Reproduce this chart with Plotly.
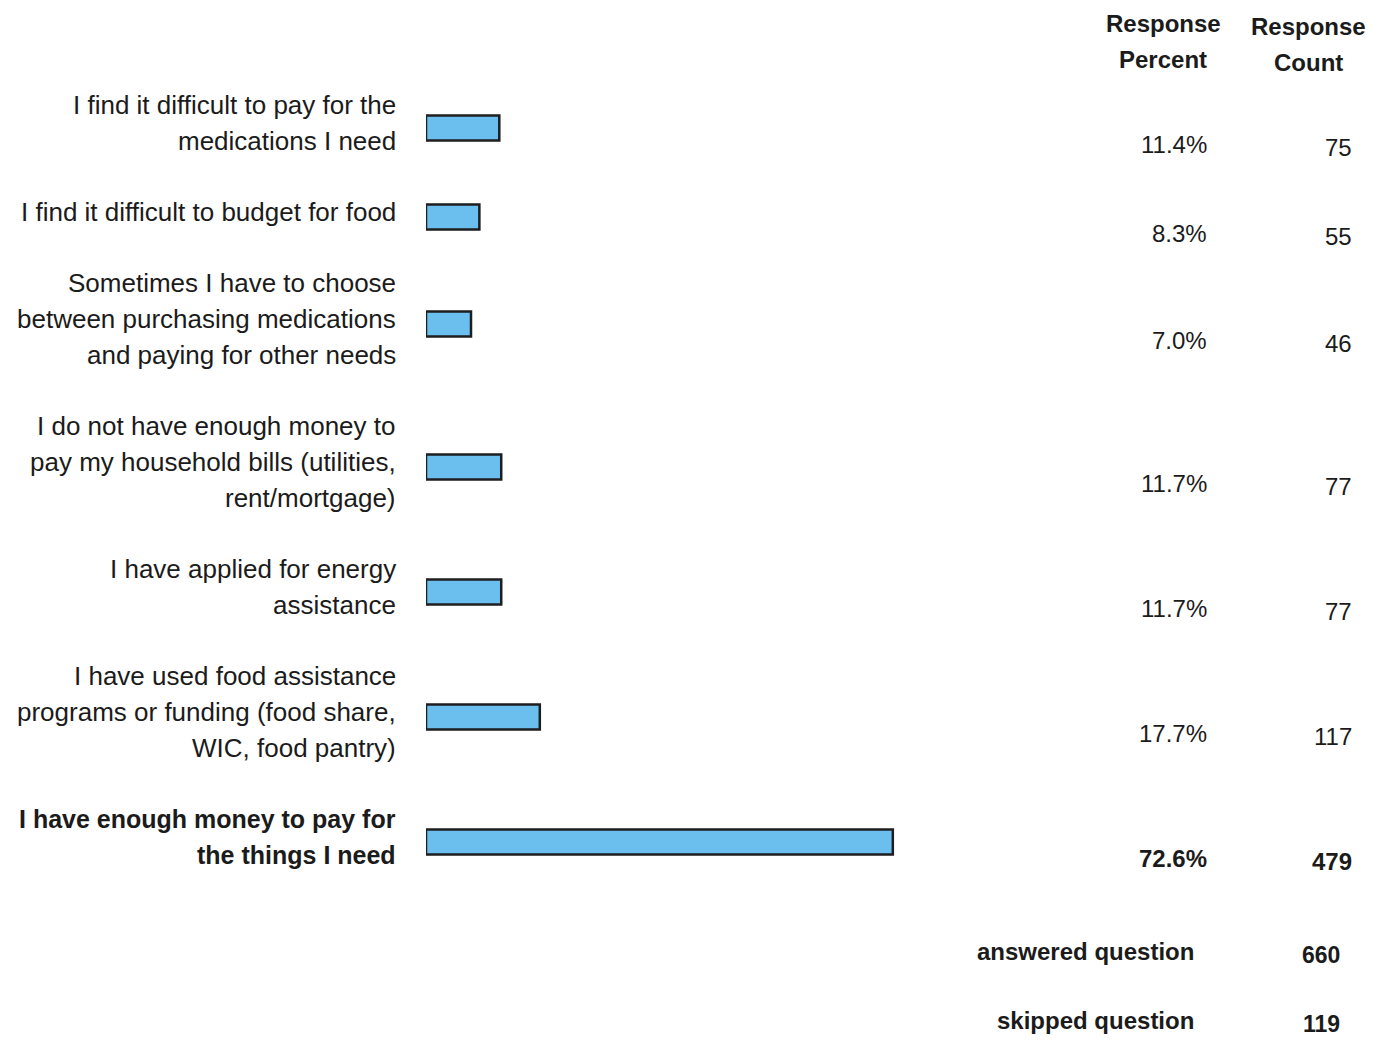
import plotly.graph_objects as go

# ---- data ----
labels = [
    ["I find it difficult to pay for the", "medications I need"],
    ["I find it difficult to budget for food"],
    ["Sometimes I have to choose", "between purchasing medications", "and paying for other needs"],
    ["I do not have enough money to", "pay my household bills (utilities,", "rent/mortgage)"],
    ["I have applied for energy", "assistance"],
    ["I have used food assistance", "programs or funding (food share,", "WIC, food pantry)"],
    ["I have enough money to pay for", "the things I need"],
]
percents = [11.4, 8.3, 7.0, 11.7, 11.7, 17.7, 72.6]
counts = [75, 55, 46, 77, 77, 117, 479]
bold_rows = [False, False, False, False, False, False, True]
header_percent = ["Response", "Percent"]
header_count = ["Response", "Count"]
footer_labels = ["answered question", "skipped question"]
footer_values = [660, 119]

# ---- layout helpers ----
OFF = 8                      # page body margin
W, H = 1384 - 2 * OFF, 1046 - 2 * OFF
FONT = "Liberation Sans, Arial, sans-serif"
TXT = "#1b1b1b"
LINE = 36  # pixel spacing between text lines

# row centres (in screen px) derived from number of label lines
centers = []
y = 128
for i, lab in enumerate(labels):
    if i > 0:
        h_prev = 35 + 36 * len(labels[i - 1])
        h_cur = 35 + 36 * len(lab)
        y += (h_prev + h_cur) / 2
    centers.append(y - OFF)

bar_left_px = 426 - OFF
px_per_pct = 6.43

fig = go.Figure()
fig.add_trace(go.Bar(
    x=percents, y=centers, orientation="h", width=25,
    marker=dict(color="#6bbfee", line=dict(color="#1e1e1e", width=2.5)),
    hoverinfo="skip",
))

ann = []
px = lambda v: (v - OFF) / W
sy = lambda v: v - OFF
for c, lab, p, n, b in zip(centers, labels, percents, counts, bold_rows):
    nl = len(lab)
    top = c - 5 - (nl - 1) * LINE / 2
    for k, line in enumerate(lab):
        t = f"<b>{line}</b>" if b else line
        ann.append(dict(x=px(398), y=top + k * LINE, xref="paper", yref="y",
                        text=t, xanchor="right", yanchor="middle", showarrow=False,
                        font=dict(size=26 if not b else 25, color=TXT, family=FONT)))
    pt = f"{p:.1f}%"
    nt = f"{n}"
    if b:
        pt, nt = f"<b>{pt}</b>", f"<b>{nt}</b>"
    ann.append(dict(x=px(1209), y=c + 16, xref="paper", yref="y", text=pt,
                    xanchor="right", yanchor="middle", showarrow=False,
                    font=dict(size=24, color=TXT, family=FONT)))
    ann.append(dict(x=px(1354), y=c + 19, xref="paper", yref="y", text=nt,
                    xanchor="right", yanchor="middle", showarrow=False,
                    font=dict(size=24, color=TXT, family=FONT)))

for k, t in enumerate(header_percent):
    ann.append(dict(x=px(1163), y=sy(23 + k * LINE), xref="paper", yref="y", text=f"<b>{t}</b>",
                    xanchor="center", yanchor="middle", showarrow=False,
                    font=dict(size=24, color=TXT, family=FONT)))
for k, t in enumerate(header_count):
    ann.append(dict(x=px(1308), y=sy(26 + k * LINE), xref="paper", yref="y", text=f"<b>{t}</b>",
                    xanchor="center", yanchor="middle", showarrow=False,
                    font=dict(size=24, color=TXT, family=FONT)))

for k, (t, v) in enumerate(zip(footer_labels, footer_values)):
    yy = sy(951 + k * 69)
    ann.append(dict(x=px(1196), y=yy, xref="paper", yref="y", text=f"<b>{t}</b>",
                    xanchor="right", yanchor="middle", showarrow=False,
                    font=dict(size=24, color=TXT, family=FONT)))
    ann.append(dict(x=px(1342), y=yy + 4, xref="paper", yref="y", text=f"<b>{v}</b>",
                    xanchor="right", yanchor="middle", showarrow=False,
                    font=dict(size=23, color=TXT, family=FONT)))

fig.update_layout(
    width=W, height=H,
    margin=dict(l=0, r=0, t=0, b=0),
    paper_bgcolor="white", plot_bgcolor="white",
    showlegend=False,
    xaxis=dict(domain=[bar_left_px / W, 1], range=[0, (W - bar_left_px) / px_per_pct],
               visible=False, fixedrange=True),
    yaxis=dict(domain=[0, 1], range=[H, 0], visible=False, fixedrange=True),
    annotations=ann,
)

fig.write_html("out.html")
